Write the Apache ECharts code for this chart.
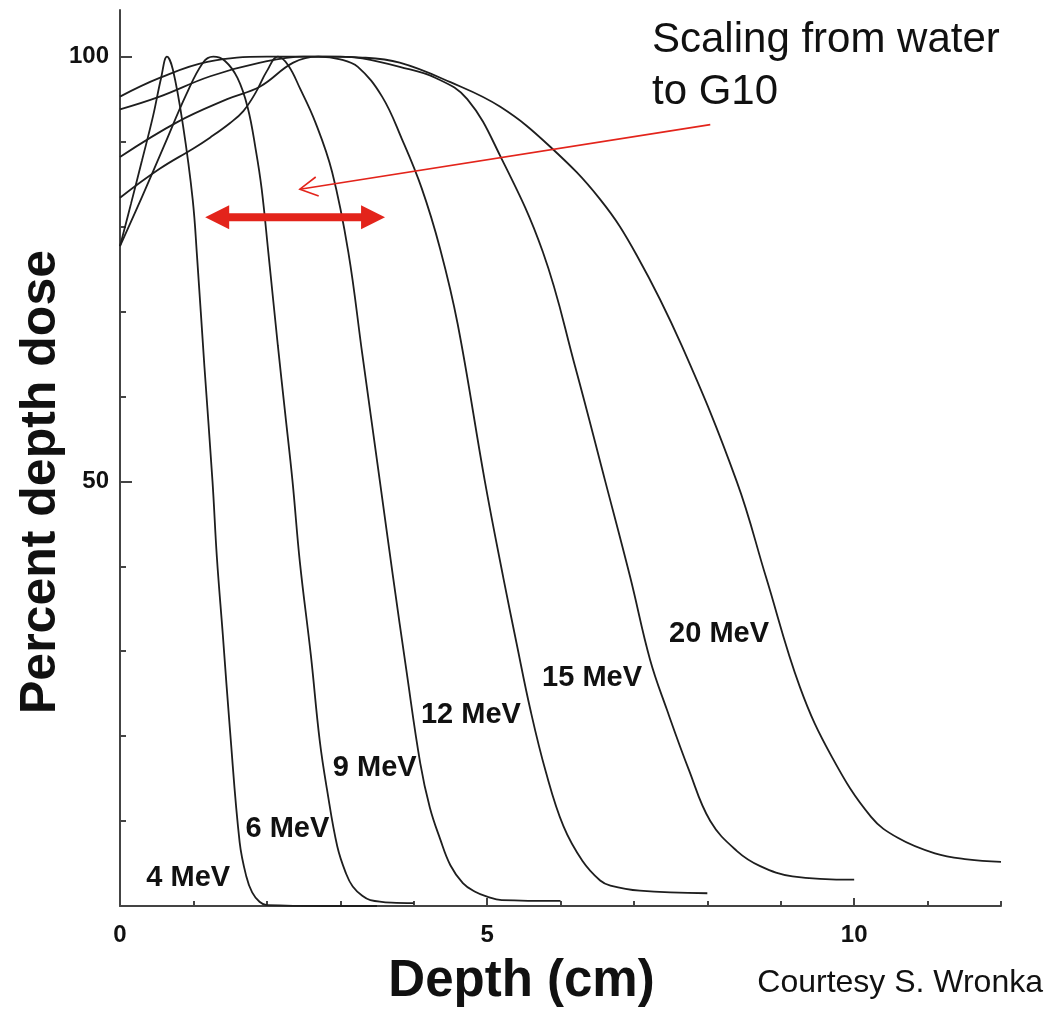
<!DOCTYPE html>
<html>
<head>
<meta charset="utf-8">
<script src="https://cdn.jsdelivr.net/npm/echarts@6/dist/echarts.min.js"></script>
<style>
html, body { margin: 0; padding: 0; background: #fff; }
#chart { width: 1053px; height: 1012px; }
</style>
</head>
<body>
<div id="chart"></div>
<script>
// percent depth dose curves, depth in cm
var energies = ['4 MeV', '6 MeV', '9 MeV', '12 MeV', '15 MeV', '20 MeV'];

var depth4 = [0, 0.15, 0.3, 0.45, 0.56, 0.64, 0.72, 0.86, 0.99, 1.05, 1.15, 1.26, 1.32, 1.4, 1.5, 1.63, 1.72, 1.8, 1.9, 2.0, 2.8, 3.5];
var dose4  = [77.7, 82.7, 87.8, 93, 97.5, 100, 98.5, 91.8, 83.2, 76.4, 63.5, 50, 41, 32, 20.5, 7.5, 3.5, 1.6, 0.5, 0.1, 0, 0];

var depth6 = [0, 0.3, 0.6, 0.9, 1.13, 1.27, 1.43, 1.6, 1.74, 1.85, 1.93, 2.02, 2.15, 2.25, 2.35, 2.45, 2.6, 2.72, 2.82, 2.96, 3.08, 3.17, 3.3, 3.41, 3.7, 4.0];
var dose6  = [77.7, 83.5, 89.5, 95.5, 99.3, 100, 99.5, 97.5, 94, 89, 84.4, 77, 66, 58, 50, 40.5, 29.5, 19.5, 13.7, 7, 3.8, 2.3, 1.2, 0.7, 0.4, 0.35];

var depth9 = [0, 0.54, 1.0, 1.23, 1.5, 1.68, 1.85, 2.0, 2.15, 2.29, 2.45, 2.66, 2.89, 3.11, 3.3, 3.54, 3.72, 3.9, 4.09, 4.22, 4.36, 4.5, 4.67, 4.83, 5.0, 5.2, 6.0];
var dose9  = [83.4, 86.8, 89.2, 90.5, 92.2, 93.6, 95.8, 98.3, 100, 99, 96.3, 92.3, 86.4, 77.0, 65, 50, 38.7, 27.8, 16.8, 11.6, 7.9, 4.8, 2.7, 1.7, 1.1, 0.7, 0.6];

var depth12 = [0, 0.78, 1.46, 1.91, 2.36, 2.7, 3.0, 3.24, 3.57, 3.84, 4.11, 4.36, 4.6, 4.97, 5.22, 5.4, 5.59, 5.8, 6.04, 6.3, 6.54, 6.68, 7.08, 8.0];
var dose12  = [88.2, 92.3, 95, 96.5, 99.3, 100, 99.7, 98.8, 95.3, 90.3, 84.5, 77.4, 68.5, 50, 38.7, 31, 23.1, 15.8, 9.4, 5.3, 3.0, 2.4, 1.8, 1.5];

var depth15 = [0, 0.54, 1.23, 1.91, 2.5, 3.0, 3.3, 3.81, 4.3, 4.73, 5.18, 5.76, 6.2, 6.61, 6.95, 7.22, 7.45, 7.75, 8.04, 8.4, 8.72, 9.16, 10.0];
var dose15  = [93.8, 95.3, 97.7, 99.3, 100, 100, 99.8, 98.8, 97.5, 95.0, 88.3, 77.0, 63.5, 50, 38.7, 29.0, 23.1, 16, 10, 6.5, 4.7, 3.5, 3.1];

var depth20 = [0, 0.54, 1.19, 2.0, 2.8, 3.3, 3.81, 4.5, 5.18, 5.86, 6.54, 7.04, 7.65, 8.4, 8.8, 9.26, 9.7, 10.23, 10.6, 11.1, 11.54, 12.0];
var dose20  = [95.3, 97.5, 99.4, 100, 100, 99.9, 99.3, 97.0, 94.1, 89.4, 83.2, 76.6, 66, 50, 38.7, 25.8, 17.5, 10.5, 8, 6.2, 5.5, 5.2];

var depths = [depth4, depth6, depth9, depth12, depth15, depth20];
var doses = [dose4, dose6, dose9, dose12, dose15, dose20];

// where the energy labels sit (depth, dose)
var labelDepth = [0.93, 2.28, 3.47, 4.78, 6.43, 8.16];
var labelDose = [3.3, 9.1, 16.2, 22.5, 26.8, 32.0];

var xTicks = [0, 1, 2, 3, 4, 5, 6, 7, 8, 9, 10, 11, 12];
var xLabelsShown = [0, 5, 10];
var yTicks = [0, 10, 20, 30, 40, 50, 60, 70, 80, 90, 100];
var yLabelsShown = [50, 100];

// annotation arrows in data units
var scalingArrow = [[8.04, 92.0], [2.45, 84.4]];
var rangeArrow = [[1.16, 81.1], [3.61, 81.1]];

var lineColor = '#1e1e1e';
var red = '#e3241b';
var font = '"Liberation Sans", Arial, sans-serif';

var chart = echarts.init(document.getElementById('chart'));

var series = depths.map(function (d, i) {
    return {
        name: energies[i],
        type: 'line',
        showSymbol: false,
        smooth: 0.4,
        lineStyle: { color: lineColor, width: 1.8 },
        data: d.map(function (x, j) { return [x, doses[i][j]]; }),
        z: 2
    };
});

option = {
    backgroundColor: '#fff',
    animation: false,
    grid: { left: 120, right: 52, top: 10, bottom: 102 },
    xAxis: [{
        type: 'value',
        min: 0,
        max: 12,
        interval: 1,
        name: 'Depth (cm)',
        nameLocation: 'middle',
        nameGap: 50,
        nameTextStyle: {
            fontFamily: 'Liberation Sans', fontWeight: 'bold', fontSize: 51, color: '#111',
            padding: [0, 78, 0, 0]
        },
        axisLine: { lineStyle: { color: '#444', width: 2 } },
        axisTick: { inside: true, length: 5, customValues: xTicks, lineStyle: { color: '#444', width: 2 } },
        splitLine: { show: false },
        axisLabel: {
            margin: 17,
            customValues: xLabelsShown,
            fontFamily: 'Liberation Sans', fontWeight: 'bold', fontSize: 24, color: '#111'
        }
    }, {
        // slightly longer ticks at 5 and 10
        type: 'value',
        position: 'bottom',
        min: 0,
        max: 12,
        axisLine: { show: false },
        axisTick: { show: true, inside: true, length: 8, customValues: [5, 10], lineStyle: { color: '#444', width: 2 } },
        axisLabel: { show: false },
        splitLine: { show: false }
    }],
    yAxis: [{
        type: 'value',
        min: 0,
        max: 105.5,
        interval: 10,
        name: 'Percent depth dose',
        nameLocation: 'middle',
        nameGap: 54,
        nameMoveOverlap: false,
        nameTextStyle: {
            fontFamily: 'Liberation Sans', fontWeight: 'bold', fontSize: 50, color: '#111',
            padding: [0, 48, 0, 0]
        },
        axisLine: { show: true, lineStyle: { color: '#444', width: 2 } },
        axisTick: { show: true, inside: true, length: 6, customValues: yTicks, lineStyle: { color: '#444', width: 2 } },
        splitLine: { show: false },
        axisLabel: {
            margin: 11,
            customValues: yLabelsShown,
            fontFamily: 'Liberation Sans', fontWeight: 'bold', fontSize: 24, color: '#111'
        }
    }, {
        // longer ticks at the labelled values
        type: 'value',
        position: 'left',
        min: 0,
        max: 105.5,
        axisLine: { show: false },
        axisTick: { show: true, inside: true, length: 12, customValues: yLabelsShown, lineStyle: { color: '#444', width: 2 } },
        axisLabel: { show: false },
        splitLine: { show: false }
    }],
    series: series
};

chart.setOption(option);

function px(pt) { return chart.convertToPixel({ gridIndex: 0 }, pt); }

var graphics = [];

var a0 = px(scalingArrow[0]), a1 = px(scalingArrow[1]);
var ang = Math.atan2(a0[1] - a1[1], a0[0] - a1[0]);
var headLen = 20, spread = 0.5;
var h1 = [a1[0] + headLen * Math.cos(ang + spread), a1[1] + headLen * Math.sin(ang + spread)];
var h2 = [a1[0] + headLen * Math.cos(ang - spread), a1[1] + headLen * Math.sin(ang - spread)];
graphics.push({ type: 'line', shape: { x1: a0[0], y1: a0[1], x2: a1[0], y2: a1[1] }, style: { stroke: red, lineWidth: 1.6 }, z: 10 });
graphics.push({ type: 'polyline', shape: { points: [h1, a1, h2] }, style: { stroke: red, lineWidth: 1.6, fill: null }, z: 10 });

var r0 = px(rangeArrow[0]), r1 = px(rangeArrow[1]);
var hl = 24, hh = 12;
graphics.push({ type: 'line', shape: { x1: r0[0] + hl - 2, y1: r0[1], x2: r1[0] - hl + 2, y2: r1[1] }, style: { stroke: red, lineWidth: 8 }, z: 10 });
graphics.push({ type: 'polygon', shape: { points: [[r0[0], r0[1]], [r0[0] + hl, r0[1] - hh], [r0[0] + hl, r0[1] + hh]] }, style: { fill: red }, z: 10 });
graphics.push({ type: 'polygon', shape: { points: [[r1[0], r1[1]], [r1[0] - hl, r1[1] - hh], [r1[0] - hl, r1[1] + hh]] }, style: { fill: red }, z: 10 });

// energy labels
labelDepth.forEach(function (d, i) {
    var p = px([d, labelDose[i]]);
    graphics.push({
        type: 'text', x: p[0], y: p[1], z: 9,
        style: {
            text: energies[i], font: 'bold 29px ' + font, fill: '#111',
            textAlign: 'center', textVerticalAlign: 'middle'
        }
    });
});

graphics.push({
    type: 'text', left: 652, top: 14, z: 10,
    style: { text: 'Scaling from water\nto G10', font: '42px ' + font, lineHeight: 52, fill: '#111' }
});
graphics.push({
    type: 'text', right: 10, top: 967, z: 10,
    style: { text: 'Courtesy S. Wronka', font: '32px ' + font, fill: '#111' }
});

chart.setOption({ graphic: graphics });
</script>
</body>
</html>
